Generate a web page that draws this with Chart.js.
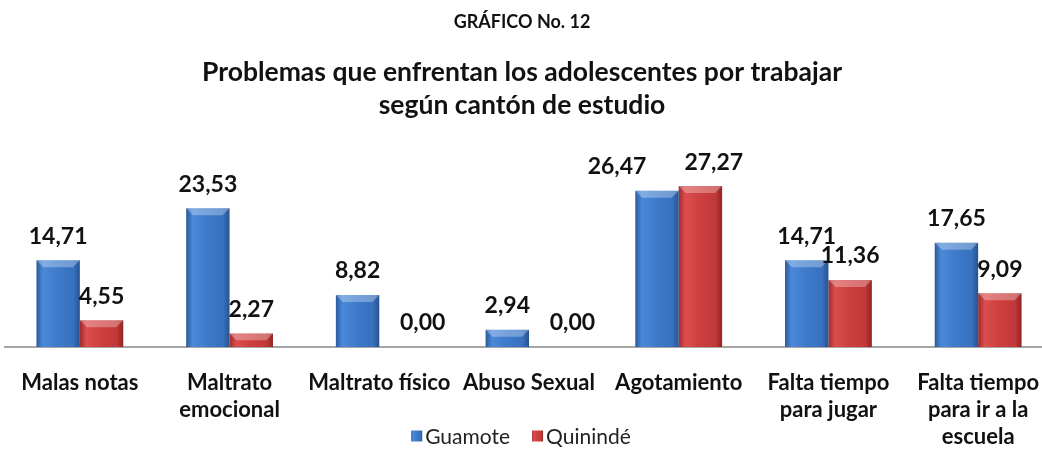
<!DOCTYPE html>
<html>
<head>
<meta charset="utf-8">
<script src="https://cdn.jsdelivr.net/npm/chart.js@4/dist/chart.umd.min.js"></script>
<style>
  html, body { margin: 0; padding: 0; background: #fff; overflow: hidden; }
  #wrap { width: 1042px; height: 453px; overflow: hidden; }
</style>
</head>
<body>
<div id="wrap"><canvas id="canvas" width="1053" height="453"></canvas></div>
<script>
// valeurs (en %)
const categorias = [
    "Malas notas",
    ["Maltrato", "emocional"],
    "Maltrato físico",
    "Abuso Sexual",
    "Agotamiento",
    ["Falta tiempo", "para jugar"],
    ["Falta tiempo", "para ir a la", "escuela"]
];
const series = ["Guamote", "Quinindé"];
const guamote = [14.71, 23.53, 8.82, 2.94, 26.47, 14.71, 17.65];
const quininde = [4.55, 2.27, 0.00, 0.00, 27.27, 11.36, 9.09];
const titulo = "GRÁFICO No. 12";
const subtitulo = ["Problemas que enfrentan los adolescentes por trabajar", "según cantón de estudio"];

const FONT = "Lato, 'Open Sans', sans-serif";

// couleurs des barres : dégradé horizontal pour imiter le relief
const palettes = [
    ["#2b5a9c", "#4b89d8", "#3d7ac9", "#3771bf", "#285290"],
    ["#9e2b2b", "#dc4d4d", "#cd3f3f", "#c23838", "#902424"]
];

function formatValeur(v) {
    return v.toFixed(2).replace(".", ",");
}

function gradientBarre(ctx, x, half, p) {
    const g = ctx.createLinearGradient(x - half, 0, x + half, 0);
    g.addColorStop(0, p[0]);
    g.addColorStop(0.15, p[1]);
    g.addColorStop(0.5, p[2]);
    g.addColorStop(0.85, p[3]);
    g.addColorStop(1, p[4]);
    return g;
}

const barBevel = {
    id: "barBevel",
    beforeDatasetsDraw(chart) {
        const ctx = chart.ctx;
        chart.data.datasets.forEach((ds, d) => {
            const meta = chart.getDatasetMeta(d);
            meta.data.forEach((el) => {
                el.options.backgroundColor = gradientBarre(ctx, el.x, el.width / 2, palettes[d]);
            });
        });
    },
    afterDatasetsDraw(chart) {
        const ctx = chart.ctx;
        ctx.save();
        // petit biseau clair en haut de chaque barre
        chart.data.datasets.forEach((ds, d) => {
            const meta = chart.getDatasetMeta(d);
            meta.data.forEach((el) => {
                const h = el.base - el.y;
                if (h < 2) return;
                const half = el.width / 2;
                const b = Math.min(7, h / 2);
                ctx.beginPath();
                ctx.moveTo(el.x - half, el.y);
                ctx.lineTo(el.x + half, el.y);
                ctx.lineTo(el.x + half - b, el.y + b);
                ctx.lineTo(el.x - half + b, el.y + b);
                ctx.closePath();
                ctx.fillStyle = "rgba(255,255,255,0.3)";
                ctx.fill();
            });
        });

        // étiquettes de valeur
        ctx.font = "bold 23px " + FONT;
        ctx.fillStyle = "#111";
        ctx.textAlign = "center";
        ctx.textBaseline = "middle";
        const m0 = chart.getDatasetMeta(0);
        const m1 = chart.getDatasetMeta(1);
        for (let i = 0; i < categorias.length; i++) {
            const e0 = m0.data[i], e1 = m1.data[i];
            const t0 = formatValeur(guamote[i]), t1 = formatValeur(quininde[i]);
            let x0 = e0.x, y0 = e0.y - 24;
            let x1 = e1.x, y1 = e1.y - 24;
            // les 0,00 sont décalés à droite de la barre vide
            if (guamote[i] === 0) x0 += e0.width / 2;
            if (quininde[i] === 0) x1 += e1.width / 2;
            const w0 = ctx.measureText(t0).width, w1 = ctx.measureText(t1).width;
            const gap = 38;
            const need = (x0 + w0 / 2 + gap) - (x1 - w1 / 2);
            if (need > 0 && Math.abs(y0 - y1) < 12) {
                x0 -= need * 0.75;
                x1 += need * 0.25;
            }
            ctx.fillText(t0, x0, y0);
            ctx.fillText(t1, x1, y1);
        }
        ctx.restore();
    },
    afterDraw(chart) {
        const ctx = chart.ctx;
        ctx.save();
        // titres (centrés sur x=522 comme l'original)
        ctx.fillStyle = "#111";
        ctx.textAlign = "center";
        ctx.textBaseline = "middle";
        ctx.font = "bold 18px " + FONT;
        ctx.fillText(titulo, 522, 22);
        ctx.font = "bold 26.5px " + FONT;
        ctx.fillText(subtitulo[0], 522, 72);
        ctx.fillText(subtitulo[1], 522, 105);

        // légende posée entre les étiquettes de l'axe
        ctx.font = "21px " + FONT;
        ctx.textAlign = "left";
        const box = 11, gapTexte = 3, gapItem = 22;
        const largeurs = series.map(s => box + gapTexte + ctx.measureText(s).width);
        const total = largeurs[0] + largeurs[1] + gapItem;
        let x = 521 - total / 2;
        const y = 436;
        series.forEach((s, d) => {
            ctx.fillStyle = gradientBarre(ctx, x + box / 2, box / 2, palettes[d]);
            ctx.fillRect(x, y - box / 2, box, box);
            ctx.fillStyle = "#222";
            ctx.fillText(s, x + box + gapTexte, y + 1);
            x += largeurs[d] + gapItem;
        });
        ctx.restore();
    }
};

const config = {
    type: "bar",
    data: {
        labels: categorias,
        datasets: [
            { label: series[0], data: guamote, backgroundColor: () => palettes[0][2], borderWidth: 0 },
            { label: series[1], data: quininde, backgroundColor: () => palettes[1][2], borderWidth: 0 }
        ]
    },
    options: {
        responsive: false,
        animation: false,
        devicePixelRatio: 1,
        categoryPercentage: 0.58,
        barPercentage: 1,
        layout: { padding: { left: 5, right: 0, top: 140.5, bottom: 0 } },
        scales: {
            x: {
                grid: { display: false, drawTicks: false },
                border: { display: true, color: "#a6a6a6", width: 2 },
                ticks: {
                    autoSkip: false,
                    maxRotation: 0,
                    padding: 22,
                    color: "#111",
                    font: { family: FONT, size: 22, weight: "bold", lineHeight: 1.23 }
                },
                afterFit: function(scale) {
                    scale.height = 106;
                    scale.paddingLeft = 0;
                    scale.paddingRight = 0;
                }
            },
            y: {
                display: false,
                min: 0,
                max: 35
            }
        },
        plugins: {
            title: { display: false },
            legend: { display: false },
            tooltip: { enabled: false }
        }
    },
    plugins: [barBevel]
};

new Chart(document.getElementById("canvas"), config);
</script>
</body>
</html>
